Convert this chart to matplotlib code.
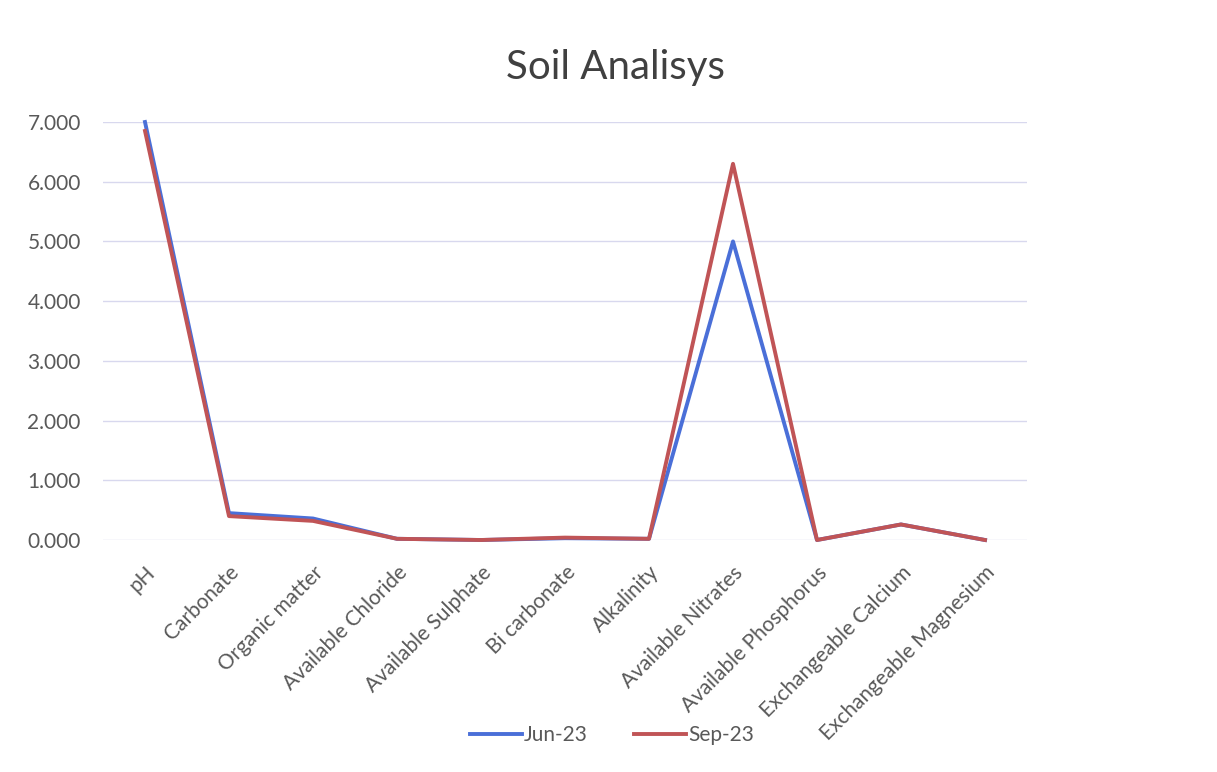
import matplotlib
matplotlib.use("Agg")
import matplotlib.pyplot as plt
import numpy as np

categories = ["pH", "Carbonate", "Organic matter", "Available Chloride",
              "Available Sulphate", "Bi carbonate", "Alkalinity",
              "Available Nitrates", "Available Phosphorus",
              "Exchangeable Calcium", "Exchangeable Magnesium"]
jun23 = [7.00, 0.45, 0.36, 0.02, 0.00, 0.03, 0.02, 5.00, 0.00, 0.26, 0.00]
sep23 = [6.85, 0.40, 0.32, 0.02, 0.00, 0.04, 0.02, 6.30, 0.00, 0.26, 0.00]
yticks = [0, 1, 2, 3, 4, 5, 6, 7]

plt.rcParams['font.family'] = ['Lato', 'DejaVu Sans']

fig = plt.figure(figsize=(12.17, 7.72), dpi=100)
ax = fig.add_axes([103/1217, 1-540/772, (1027-103)/1217, (540-122)/772])

x = np.arange(len(categories))
ax.plot(x, jun23, color="#4a6fd8", lw=2.8, label="Jun-23", solid_joinstyle="round", clip_on=False)
ax.plot(x, sep23, color="#c05456", lw=2.8, label="Sep-23", solid_joinstyle="round", clip_on=False)

ax.set_xlim(-0.5, len(categories) - 0.5)
ax.set_ylim(0, 7)
ax.set_yticks(yticks)
ax.set_yticklabels([f"{v:.3f}" for v in yticks])
ax.set_xticks(x)
ax.set_xticklabels(categories, rotation=45, ha="right", rotation_mode="anchor")
ax.tick_params(axis="y", length=0, labelsize=15, colors="#595959", pad=16)
ax.tick_params(axis="x", length=0, labelsize=15, colors="#595959", pad=16)
ax.grid(axis="y", color="#d8d8ee", lw=1)
ax.set_axisbelow(True)
for s in ax.spines.values():
    s.set_visible(False)

fig.text(615/1217, 1-68/772, "Soil Analisys", ha="center", va="center",
         fontsize=29, color="#404040")

leg = fig.legend(loc="center", bbox_to_anchor=(612/1217, 1-735/772), ncol=2,
                 frameon=False, fontsize=15, handlelength=2.5, handletextpad=0.1,
                 columnspacing=2.2, labelcolor="#595959")

fig.savefig("out.png", dpi=100)
